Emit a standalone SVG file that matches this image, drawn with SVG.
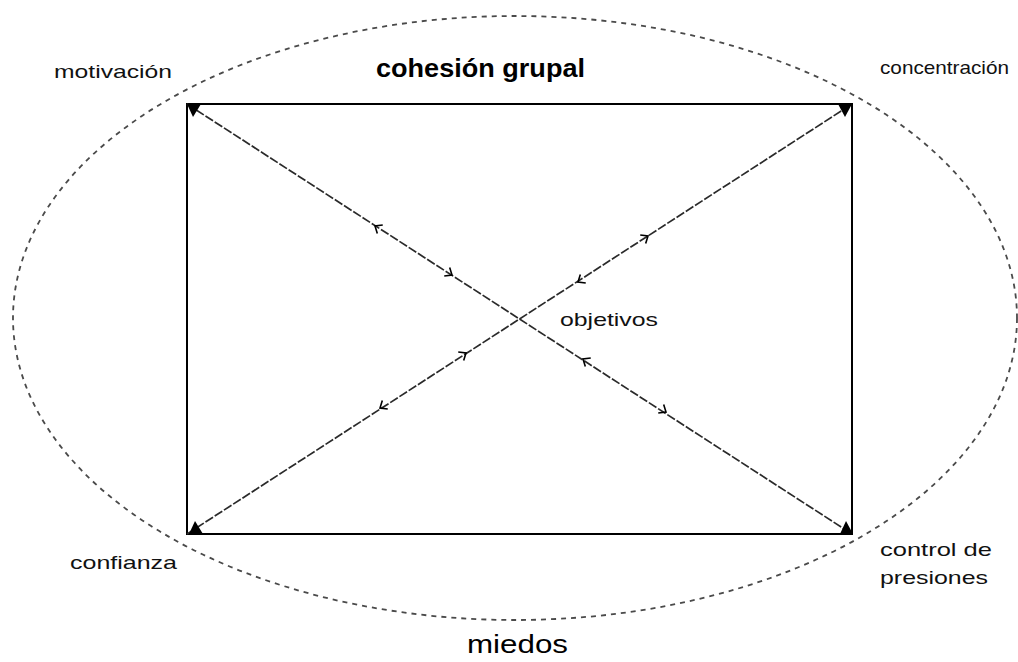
<svg xmlns="http://www.w3.org/2000/svg" xmlns:xlink="http://www.w3.org/1999/xlink" width="1018" height="662" viewBox="0 0 1018 662">
<style>
.lbl{font-family:"Liberation Sans",Arial,sans-serif;font-size:19px;fill:#111}
.title{font-family:"Liberation Sans",Arial,sans-serif;font-size:25px;font-weight:bold;fill:#000}
.big{font-family:"Liberation Sans",Arial,sans-serif;font-size:26px;fill:#000}
.diag{stroke:#2a2a2a;stroke-width:1.7;stroke-dasharray:9 2;fill:none}
.chev{stroke:#000;stroke-width:1.6;fill:none}
</style>
<defs>
<path id="chev" class="chev" d="M-6,-5 L0,0 L-6,5"/>
</defs>
<rect width="1018" height="662" fill="#fff"/>
<g id="ellipse">
<ellipse cx="515" cy="318" rx="502" ry="302" fill="none" stroke="#4a4a4a" stroke-width="1.8" stroke-dasharray="5 5"/>
</g>
<g id="box">
<rect x="187" y="104" width="665" height="430" fill="none" stroke="#000" stroke-width="2"/>
</g>
<g id="connectors">
<line class="diag" x1="187" y1="104" x2="852" y2="534"/>
<line class="diag" x1="187" y1="534" x2="852" y2="104"/>
<polygon points="187,104 201,104 193,117" fill="#000"/>
<polygon points="838,104 852,104 845,117" fill="#000"/>
<polygon points="189,534 203,534 195,521" fill="#000"/>
<polygon points="840,534 853,534 846,521" fill="#000"/>
<use xlink:href="#chev" transform="translate(375,226) rotate(212.9)"/>
<use xlink:href="#chev" transform="translate(452,275) rotate(32.9)"/>
<use xlink:href="#chev" transform="translate(583,359) rotate(212.9)"/>
<use xlink:href="#chev" transform="translate(666,412) rotate(32.9)"/>
<use xlink:href="#chev" transform="translate(648,236) rotate(-32.9)"/>
<use xlink:href="#chev" transform="translate(578,282) rotate(147.1)"/>
<use xlink:href="#chev" transform="translate(466,353) rotate(-32.9)"/>
<use xlink:href="#chev" transform="translate(380,408) rotate(147.1)"/>
</g>
<g id="title"><text class="title" x="376" y="77" textLength="209" lengthAdjust="spacingAndGlyphs">cohesión grupal</text></g>
<g id="motivacion"><text class="lbl" x="54" y="78" textLength="118" lengthAdjust="spacingAndGlyphs">motivación</text></g>
<g id="concentracion"><text class="lbl" x="880" y="74" textLength="129" lengthAdjust="spacingAndGlyphs">concentración</text></g>
<g id="objetivos"><text class="lbl" x="560" y="326" textLength="98" lengthAdjust="spacingAndGlyphs">objetivos</text></g>
<g id="confianza"><text class="lbl" x="70" y="569" textLength="107" lengthAdjust="spacingAndGlyphs">confianza</text></g>
<g id="control"><text class="lbl" x="880" y="556" textLength="112" lengthAdjust="spacingAndGlyphs">control de</text><text class="lbl" x="880" y="584" textLength="108" lengthAdjust="spacingAndGlyphs">presiones</text></g>
<g id="miedos"><text class="big" x="467" y="653" textLength="101" lengthAdjust="spacingAndGlyphs">miedos</text></g>
</svg>
